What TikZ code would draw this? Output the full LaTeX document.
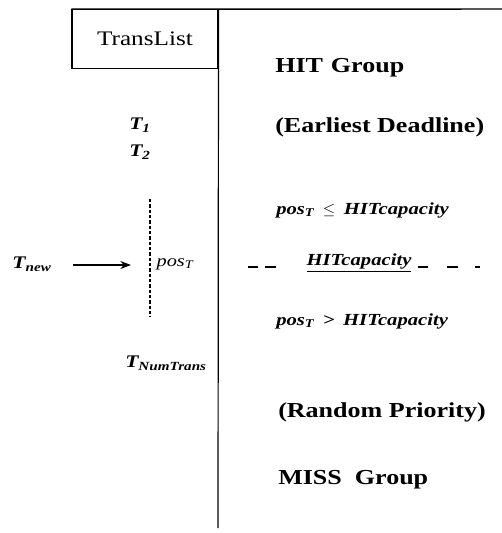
\documentclass[tikz,border=0pt]{standalone}
\usepackage{fontspec}
\setmainfont{Liberation Serif}[FakeStretch=1.22]
\usetikzlibrary{arrows.meta}
\tikzset{
    grp/.style={font=\fontsize{16}{18}\selectfont\bfseries, anchor=west, inner sep=0pt},
    cond/.style={font=\fontsize{12.7}{14}\selectfont\bfseries\itshape, anchor=west, inner sep=0pt},
    tlbl/.style={font=\fontsize{13.3}{15}\selectfont\bfseries\itshape, inner sep=0pt},
}
\begin{document}
\begin{tikzpicture}[x=0.75pt,y=-0.75pt]
    \useasboundingbox (0,0) rectangle (502,533);
    \node[draw, line width=0.8pt, minimum width=109.5pt, minimum height=44pt, font=\fontsize{15.5}{17}\selectfont] (list) at (145,39) {TransList};
    \coordinate (topend) at (502,9);
    \coordinate (botend) at (218,528);
    \draw[line width=1.1pt] (list.north west) -- (topend);
    \draw[line width=0.9pt] (list.north east) -- (botend);
    % left column
    \node[tlbl] (t1) at (140,125) {T\textsubscript{1}};
    \node[tlbl] (t2) at (140,152) {T\textsubscript{2}};
    \node[tlbl] (tnum) at (166,363) {T\textsubscript{NumTrans}};
    \node[tlbl] (tnew) at (32,264) {T\textsubscript{new}};
    \node[tlbl, font=\fontsize{12.5}{14}\selectfont\itshape] (posl) at (175,264) {pos\textsubscript{T}};
    \coordinate (dtop) at (150,199);
    \coordinate (dbot) at (150,317);
    \draw[line width=0.8pt, dash pattern=on 2.5pt off 1.5pt] (dtop) -- (dbot);
    \coordinate (atail) at (73,265);
    \coordinate (ahead) at (131,265);
    \draw[line width=0.9pt, -{Stealth[length=8pt,width=6pt]}] (atail) -- (ahead);
    % right column
    \node[grp] (hit) at (275,68) {HIT\hspace{6pt}Group};
    \node[grp] (edf) at (275,127) {(Earliest Deadline)};
    \node[cond] (le) at (276,210) {pos\textsubscript{T}\enspace$\le$\enspace HITcapacity};
    \node[cond, anchor=center] (cap) at (359,263) {\underline{HITcapacity}};
    \node[cond] (gt) at (276,321) {pos\textsubscript{T}\enspace>\enspace HITcapacity};
    \node[grp] (rnd) at (278,412) {(Random Priority)};
    \node[grp] (miss) at (278,480) {MISS~~Group};
    \coordinate (cl) at (248,267);
    \coordinate (cm) at (276,267);
    \coordinate (cn) at (418,267);
    \coordinate (cr) at (480,267);
    \draw[line width=0.8pt, dash pattern=on 7.5pt off 5.25pt on 8.25pt off 10pt] (cl) -- (cm);
    \draw[line width=0.8pt, dash pattern=on 7.5pt off 14.25pt on 8.25pt off 12.75pt on 3.75pt off 5pt] (cn) -- (cr);
\end{tikzpicture}
\end{document}
